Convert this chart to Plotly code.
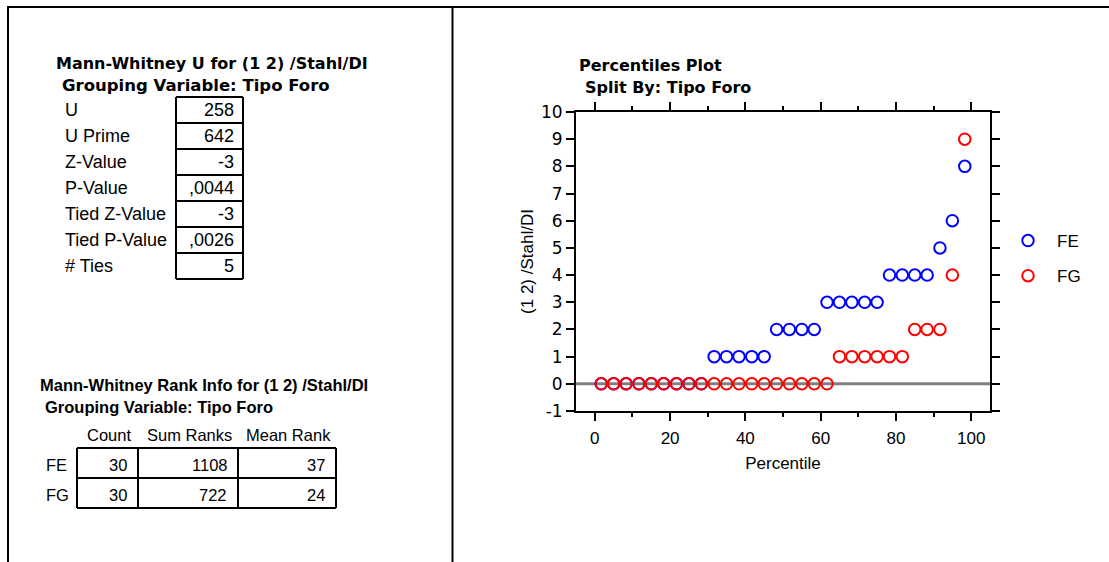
import plotly.graph_objects as go

W, H = 1109, 562

# ---------------- data ----------------
percentiles = [1.7, 5.0, 8.3, 11.7, 15.0, 18.3, 21.7, 25.0, 28.3, 31.7,
               35.0, 38.3, 41.7, 45.0, 48.3, 51.7, 55.0, 58.3, 61.7, 65.0,
               68.3, 71.7, 75.0, 78.3, 81.7, 85.0, 88.3, 91.7, 95.0, 98.3]
fe_values = [0, 0, 0, 0, 0, 0, 0, 0, 0, 1, 1, 1, 1, 1, 2, 2, 2, 2, 3, 3,
             3, 3, 3, 4, 4, 4, 4, 5, 6, 8]
fg_values = [0, 0, 0, 0, 0, 0, 0, 0, 0, 0, 0, 0, 0, 0, 0, 0, 0, 0, 0, 1,
             1, 1, 1, 1, 1, 2, 2, 2, 4, 9]
series_names = ["FE", "FG"]
series_colors = ["#0000ff", "#ff0000"]

mw_labels = ["U", "U Prime", "Z-Value", "P-Value", "Tied Z-Value", "Tied P-Value", "# Ties"]
mw_values = ["258", "642", "-3", ",0044", "-3", ",0026", "5"]

rank_groups = ["FE", "FG"]
rank_headers = ["Count", "Sum Ranks", "Mean Rank"]
rank_count = ["30", "30"]
rank_sum = ["1108", "722"]
rank_mean = ["37", "24"]

x_ticks = [0, 20, 40, 60, 80, 100]
y_ticks = [-1, 0, 1, 2, 3, 4, 5, 6, 7, 8, 9, 10]
reference_y = 0


def fx(x):
    return x / W


def fy(y):
    return 1 - y / H


fig = go.Figure()
for name, vals, col in zip(series_names, [fe_values, fg_values], series_colors):
    fig.add_trace(go.Scatter(
        x=percentiles, y=vals, mode="markers", name=name, legendgroup=name,
        marker=dict(symbol="circle-open", size=11.5, color=col, line=dict(width=2, color=col)),
        cliponaxis=False,
    ))

SANS = "Liberation Sans, Arial, sans-serif"
BOLD = "DejaVu Sans, sans-serif"
NARROW = "Liberation Sans, Arial, sans-serif"

annotations = []
shapes = [dict(type="line", xref="x domain", yref="y", x0=0, x1=1,
               y0=reference_y, y1=reference_y, layer="below",
               line=dict(color="#808080", width=3))]


def txt(x, y, s, size, family, anchor="left", bold=False):
    annotations.append(dict(
        x=fx(x), y=fy(y), xref="paper", yref="paper", text=s, showarrow=False,
        xanchor=anchor, yanchor="middle",
        font=dict(size=size, family=family, color="black", weight="bold" if bold else "normal"),
    ))


def line(x0, y0, x1, y1, w=2):
    shapes.append(dict(type="line", xref="paper", yref="paper",
                       x0=fx(x0), y0=fy(y0), x1=fx(x1), y1=fy(y1),
                       line=dict(color="black", width=w)))


# frame
line(7, 7, W, 7)
line(8, 6, 8, H)
line(452.5, 6, 452.5, H)

# table 1
txt(54, 63, "Mann-Whitney U for (1 2) /Stahl/DI", 16, BOLD, bold=True)
txt(60, 85, "Grouping Variable: Tipo Foro", 16.5, BOLD, bold=True)
row_top = 97
row_h = 26
for i, (lab, val) in enumerate(zip(mw_labels, mw_values)):
    yc = row_top + row_h * i + row_h / 2
    txt(63, yc, lab, 18, SANS)
    txt(236, yc, val, 18, SANS, anchor="right")
for i in range(len(mw_labels) + 1):
    line(176, row_top + row_h * i, 243, row_top + row_h * i)
line(176, row_top, 176, row_top + row_h * len(mw_labels))
line(243, row_top, 243, row_top + row_h * len(mw_labels))

# table 2
txt(38, 385, "Mann-Whitney Rank Info for (1 2) /Stahl/DI", 16.5, NARROW, bold=True)
txt(43, 407, "Grouping Variable: Tipo Foro", 16.5, NARROW, bold=True)
col_edges = [77, 138, 238, 336]
for h, c0, c1 in zip(rank_headers, col_edges[:-1], col_edges[1:]):
    txt((c0 + c1) / 2 + 1, 435, h, 16.5, NARROW, anchor="center")
t2_top, t2_h = 448, 30
for i, g in enumerate(rank_groups):
    yc = t2_top + t2_h * i + t2_h / 2 + 2
    txt(44, yc, g, 16.5, NARROW)
    for v, c1 in zip([rank_count[i], rank_sum[i], rank_mean[i]], col_edges[1:]):
        txt(c1 - 9, yc, v, 16.5, NARROW, anchor="right")
for i in range(len(rank_groups) + 1):
    line(col_edges[0], t2_top + t2_h * i, col_edges[-1], t2_top + t2_h * i)
for c in col_edges:
    line(c, t2_top, c, t2_top + t2_h * len(rank_groups))

# chart titles
txt(577, 65, "Percentiles Plot", 16, BOLD, bold=True)
txt(583, 87, "Split By: Tipo Foro", 16, BOLD, bold=True)

fig.update_layout(
    width=W, height=H,
    margin=dict(l=0, r=0, t=0, b=0, autoexpand=False),
    paper_bgcolor="white", plot_bgcolor="white",
    showlegend=True,
    legend=dict(x=fx(999), y=fy(223), xanchor="left", yanchor="top",
                font=dict(size=17, family=SANS, color="black"),
                bgcolor="rgba(0,0,0,0)", itemwidth=48, tracegroupgap=10,
                traceorder="grouped"),
    annotations=annotations,
    shapes=shapes,
    xaxis=dict(
        domain=[fx(576), fx(990)], range=[-5, 105],
        tickvals=x_ticks, ticktext=[str(v) for v in x_ticks],
        ticks="outside", ticklen=8, tickwidth=2, tickcolor="black",
        minor=dict(ticks="outside", ticklen=4, tickwidth=2, tickcolor="black", dtick=10, tick0=0),
        showline=True, linecolor="black", linewidth=2, mirror="ticks",
        showgrid=False, zeroline=False, ticklabelstandoff=3,
        tickfont=dict(size=17, family=SANS, color="black"),
        title=dict(text="Percentile", font=dict(size=17, family=SANS, color="black"), standoff=10),
    ),
    yaxis=dict(
        domain=[fy(411), fy(112)], range=[-1, 10],
        tickvals=y_ticks, ticktext=[str(v) for v in y_ticks],
        ticks="outside", ticklen=8, tickwidth=2, tickcolor="black",
        showline=True, linecolor="black", linewidth=2, mirror="ticks",
        showgrid=False, zeroline=False,
        tickfont=dict(size=17, family="DejaVu Sans, sans-serif", color="black"),
        title=dict(text="(1 2) /Stahl/DI", font=dict(size=17, family=SANS, color="black"), standoff=3),
    ),
)

fig.write_html("out.html")
